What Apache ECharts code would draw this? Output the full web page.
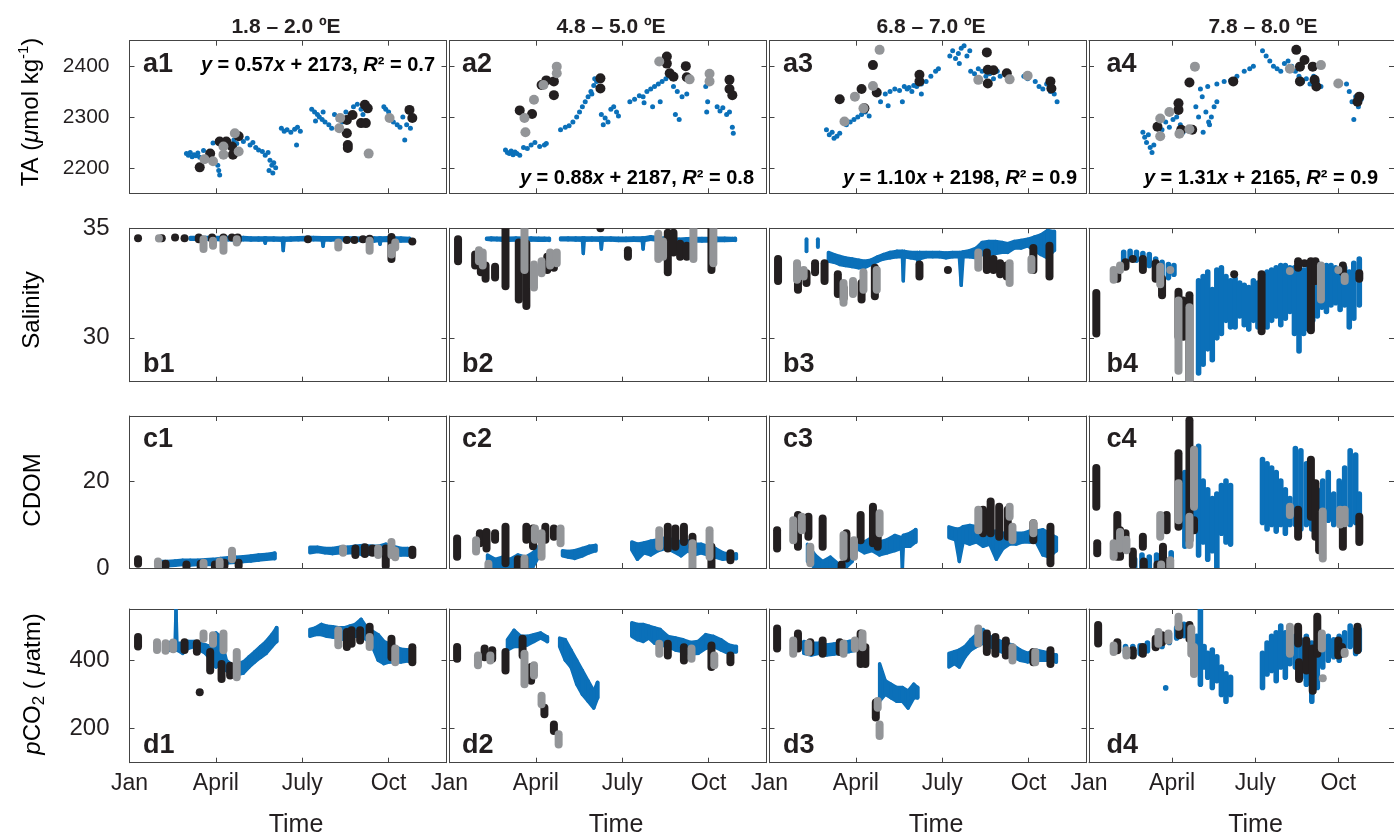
<!DOCTYPE html>
<html>
<head>
<meta charset="utf-8">
<script src="https://cdn.jsdelivr.net/npm/echarts@6.0.0/dist/echarts.min.js"></script>
<style>
  html, body { margin: 0; padding: 0; background: #fff; }
  #chart { width: 1394px; height: 837px; }
</style>
</head>
<body>
<div id="chart"></div>
<script>
// ---- axis ticks / labels ----
const monthTicks = [0, 91, 182, 273]
const monthLabels = ['Jan', 'April', 'July', 'Oct']
const lonTitles = ['1.8 – 2.0 ºE', '4.8 – 5.0 ºE', '6.8 – 7.0 ºE', '7.8 – 8.0 ºE']
const taTicks = [2200, 2300, 2400]
const salTicks = [30, 35]
const cdomTicks = [0, 20]
const pco2Ticks = [200, 400]
const fitSlopes = ['0.57', '0.88', '1.10', '1.31']
const fitIntercepts = ['2173', '2187', '2198', '2165']
const fitR2 = ['0.7', '0.8', '0.9', '0.9']

// ---- row a: TA  [day, TA] ----
const a1Blue = [[60,2228],[62,2225],[64,2230],[66,2222],[68,2226],[70,2224],[72,2229],[74,2221],[78,2234],[88,2249],[93,2205],[94,2195],[95,2186],[110,2255],[113,2248],[116,2260],[120,2252],[124,2258],[127,2245],[130,2250],[133,2240],[136,2235],[140,2232],[143,2225],[146,2230],[148,2215],[150,2205],[152,2210],[154,2200],[147,2195],[151,2190],[160,2278],[163,2272],[166,2275],[170,2270],[174,2276],[177,2280],[180,2272],[176,2245],[192,2315],[195,2310],[198,2305],[200,2300],[203,2295],[206,2290],[210,2285],[213,2278],[196,2292],[204,2310],[216,2305],[220,2295],[224,2290],[228,2310],[232,2300],[236,2320],[240,2325],[244,2315],[246,2305],[268,2320],[270,2315],[273,2310],[278,2290],[282,2285],[285,2280],[288,2300],[292,2285],[296,2278],[290,2255]]
const a1Black = [[74,2201],[85,2228],[95,2252],[102,2252],[108,2242],[109,2226],[115,2262],[229,2294],[229,2268],[230,2245],[230,2239],[235,2304],[244,2288],[249,2288],[248,2324],[251,2317],[295,2314],[298,2298]]
const a1Grey = [[79,2217],[88,2213],[99,2242],[99,2226],[111,2268],[115,2232],[222,2298],[221,2278],[252,2228],[274,2298]]

const a2Blue = [[59,2235],[61,2230],[63,2228],[65,2233],[67,2226],[69,2231],[71,2228],[74,2225],[78,2240],[82,2238],[86,2245],[90,2250],[95,2242],[100,2245],[102,2248],[117,2275],[122,2280],[126,2283],[130,2290],[134,2300],[137,2310],[140,2320],[143,2330],[146,2340],[149,2350],[152,2362],[155,2370],[150,2345],[153,2375],[160,2305],[164,2298],[167,2290],[170,2315],[173,2320],[176,2310],[178,2302],[162,2285],[190,2330],[195,2335],[200,2342],[204,2340],[208,2350],[212,2355],[216,2360],[220,2365],[224,2370],[228,2375],[232,2380],[214,2320],[222,2330],[205,2328],[236,2360],[240,2350],[245,2340],[250,2345],[238,2305],[242,2295],[270,2360],[272,2330],[271,2310],[282,2320],[285,2312],[288,2318],[292,2305],[295,2310],[298,2280],[299,2268]]
const a2Black = [[74,2313],[87,2306],[97,2363],[102,2372],[110,2370],[110,2343],[159,2376],[159,2356],[229,2419],[229,2405],[232,2386],[236,2379],[249,2400],[250,2378],[295,2373],[295,2355],[298,2343]]
const a2Grey = [[79,2298],[80,2270],[89,2334],[99,2363],[113,2399],[113,2386],[221,2409],[253,2374],[274,2385],[274,2370]]

const a3Blue = [[60,2275],[63,2265],[66,2270],[68,2258],[71,2262],[74,2268],[81,2285],[85,2290],[89,2295],[93,2300],[97,2305],[101,2310],[105,2302],[117,2330],[122,2345],[127,2350],[132,2355],[137,2352],[142,2360],[147,2358],[152,2362],[157,2365],[125,2322],[140,2330],[145,2355],[150,2350],[155,2360],[160,2365],[165,2370],[170,2380],[175,2390],[178,2395],[160,2345],[190,2420],[193,2430],[196,2415],[199,2425],[202,2435],[205,2440],[208,2420],[211,2430],[200,2405],[212,2390],[216,2385],[220,2395],[224,2390],[228,2380],[232,2385],[236,2375],[240,2390],[243,2380],[268,2380],[272,2375],[280,2370],[284,2360],[288,2355],[292,2365],[296,2350],[300,2345],[303,2330]]
const a3Black = [[74,2335],[97,2355],[109,2402],[100,2317],[113,2348],[158,2383],[158,2370],[229,2427],[230,2393],[230,2366],[236,2392],[250,2386],[296,2370],[297,2356]]
const a3Grey = [[79,2291],[90,2340],[99,2317],[109,2361],[116,2432],[220,2373],[253,2374],[272,2381]]

const a4Blue = [[59,2270],[61,2260],[63,2250],[65,2265],[67,2240],[69,2230],[71,2245],[76,2285],[80,2275],[84,2290],[88,2280],[92,2295],[96,2300],[100,2285],[103,2270],[117,2320],[120,2300],[124,2340],[128,2310],[131,2290],[134,2300],[137,2320],[140,2330],[122,2355],[130,2360],[140,2365],[148,2370],[155,2372],[162,2380],[170,2390],[176,2395],[180,2400],[125,2270],[132,2285],[190,2430],[194,2420],[198,2410],[202,2400],[206,2395],[210,2390],[214,2405],[218,2410],[222,2400],[226,2390],[230,2380],[234,2370],[238,2375],[242,2365],[246,2380],[250,2370],[254,2360],[282,2365],[285,2350],[288,2330],[292,2340],[295,2320],[298,2335],[290,2295]]
const a4Black = [[75,2281],[98,2327],[98,2314],[101,2275],[110,2368],[113,2275],[158,2370],[227,2432],[231,2399],[236,2412],[245,2399],[247,2373],[231,2370],[249,2360],[296,2340],[294,2330]]
const a4Grey = [[78,2297],[78,2262],[88,2310],[99,2267],[110,2276],[116,2399],[220,2395],[254,2402],[273,2366]]

// ---- row b: salinity  [day, low, high] ----
const b1Blue = [[64,34.5,34.58],[72,34.5,34.58],[80,34.5,34.58],[88,34.5,34.58],[96,34.48,34.58],[104,34.48,34.58],[112,34.46,34.56],[120,34.48,34.58],[128,34.46,34.56],[136,34.46,34.56],[142,34.46,34.56],[143,34.32,34.56],[144,34.46,34.56],[152,34.46,34.56],[161,34.45,34.55],[162,33.98,34.55],[163,34.45,34.55],[170,34.46,34.56],[178,34.47,34.57],[186,34.48,34.58],[194,34.48,34.58],[203,34.46,34.57],[204,34.18,34.56],[205,34.46,34.57],[212,34.46,34.57],[220,34.47,34.57],[228,34.46,34.56],[236,34.45,34.56],[244,34.44,34.55],[252,34.44,34.56],[258,34.42,34.56],[263,34.44,34.56],[264,34.27,34.56],[265,34.44,34.56],[272,34.44,34.57],[280,34.42,34.56],[286,34.42,34.56],[295,34.42,34.54]]
const b1Black = [[9,34.55,34.55],[34,34.55,34.55],[48,34.58,34.58],[58,34.55,34.55],[73,34.5,34.58],[87,34.5,34.58],[99,34.58,34.58],[108,34.58,34.58],[114,34.45,34.58],[188,34.5,34.5],[229,34.47,34.47],[237,34.47,34.47],[246,34.5,34.5],[253,34.52,34.52],[276,33.6,34.6],[298,34.4,34.4]]
const b1Grey = [[31,34.53,34.55],[78,34.05,34.5],[88,34.2,34.43],[99,33.97,34.5],[113,34.35,34.5],[220,34.12,34.35],[253,33.97,34.43],[276,33.81,34.12],[280,34.12,34.35]]

const b2Blue = [[39,34.5,34.55],[44,34.48,34.56],[50,34.47,34.55],[56,34.45,34.55],[62,34.45,34.55],[70,34.46,34.56],[78,34.45,34.55],[86,34.46,34.56],[94,34.45,34.55],[100,34.45,34.55],[105,34.46,34.54],[117,34.48,34.56],[125,34.47,34.56],[133,34.46,34.56],[140,34.45,34.56],[141,33.85,34.55],[142,34.45,34.56],[150,34.46,34.56],[159,34.45,34.56],[160,34.05,34.55],[161,34.45,34.56],[170,34.46,34.56],[178,34.44,34.55],[186,34.44,34.55],[194,34.45,34.56],[203,34.44,34.56],[204,34.05,34.56],[205,34.44,34.56],[212,34.5,34.62],[218,34.46,34.58],[226,34.44,34.55],[234,34.4,34.52],[242,34.38,34.5],[250,34.4,34.52],[258,34.42,34.54],[266,34.42,34.54],[274,34.42,34.54],[282,34.44,34.55],[290,34.44,34.55],[298,34.45,34.54],[301,34.45,34.54]]
const b2Black = [[9,33.5,34.5],[27,33.3,33.8],[33,33.0,33.6],[38,32.7,33.3],[48,32.75,33.25],[59,32.35,35.0],[73,31.75,34.35],[81,31.45,34.3],[103,33.1,33.7],[110,33.2,33.8],[159,35.0,35.0],[188,33.7,34.0],[230,33.0,34.8],[236,33.9,34.8],[243,33.7,34.3],[250,33.7,34.2],[276,33.1,35.0]]
const b2Grey = [[31,33.5,34.0],[35,33.3,33.9],[79,33.1,35.0],[89,32.3,33.35],[97,32.95,33.5],[106,33.3,33.9],[113,33.4,33.9],[220,33.6,34.75],[225,33.7,34.4],[257,33.6,35.0],[278,33.4,35.0]]

const b3Blue = [[39,33.95,34.5],[51,34.15,34.5],[62,33.5,33.9],[68,33.45,33.8],[74,33.35,33.72],[80,33.3,33.65],[87,33.25,33.6],[94,33.2,33.55],[100,33.2,33.5],[107,33.35,33.55],[114,33.5,33.7],[120,33.6,33.8],[127,33.65,33.9],[134,33.7,33.95],[140,33.7,33.95],[141,32.6,33.9],[142,33.7,33.95],[149,33.65,33.9],[156,33.6,33.9],[157,33.2,33.85],[158,33.6,33.9],[165,33.7,33.9],[172,33.7,33.9],[179,33.7,33.9],[186,33.65,33.88],[193,33.7,33.9],[200,33.7,33.9],[202,32.4,33.9],[204,33.7,33.92],[211,33.7,33.98],[218,33.65,34.1],[224,33.8,34.35],[231,33.8,34.4],[238,33.85,34.4],[245,33.9,34.35],[251,33.9,34.3],[258,34.1,34.4],[265,34.1,34.45],[272,34.2,34.5],[279,34.0,34.6],[286,33.8,34.7],[293,33.65,34.9],[300,34.0,34.85]]
const b3Black = [[9,32.6,33.6],[30,32.2,33.0],[39,32.5,32.95],[48,33.0,33.4],[58,32.6,33.4],[72,32.0,32.9],[78,31.8,32.3],[97,31.75,32.5],[111,31.9,33.2],[158,32.8,33.35],[188,33.1,33.1],[229,33.1,33.9],[236,33.1,33.6],[243,32.9,33.4],[250,32.8,33.3],[278,33.1,34.1],[295,32.8,34.2]]
const b3Grey = [[29,32.65,33.4],[36,32.8,33.1],[78,31.6,32.5],[88,32.0,32.6],[99,32.2,33.0],[113,32.2,33.1],[220,33.2,33.9],[253,32.5,33.4],[276,33.1,33.6]]

const b4Blue = [[38,33.5,33.9],[45,33.6,33.95],[52,33.55,33.9],[59,33.45,33.85],[66,33.3,33.8],[73,33.05,33.6],[80,32.8,33.45],[87,32.75,33.35],[93,32.9,33.3],[120,28.4,32.6],[125,28.8,32.8],[130,29.5,33.0],[135,29.0,32.2],[140,30.0,33.1],[145,30.2,33.2],[150,30.8,32.8],[155,30.5,32.6],[160,30.5,32.7],[165,31.0,32.5],[170,30.6,32.4],[175,30.4,32.3],[180,30.8,32.6],[185,30.5,32.5],[190,30.8,32.8],[195,30.5,33.0],[200,30.8,33.1],[205,31.0,33.2],[210,30.6,33.3],[215,30.9,33.3],[220,31.2,33.2],[225,30.2,33.2],[230,29.4,33.0],[235,30.2,33.1],[240,30.4,33.4],[245,30.8,33.4],[250,31.0,33.4],[255,31.4,33.2],[260,31.2,33.3],[265,31.5,33.3],[270,31.6,33.2],[275,31.3,33.1],[280,31.5,33.2],[285,30.5,33.0],[290,30.9,33.4],[296,31.5,33.6]]
const b4Black = [[8,30.2,32.05],[31,32.7,33.0],[40,33.25,33.45],[48,33.6,33.6],[59,33.1,33.6],[73,32.7,33.4],[80,31.95,32.7],[98,30.05,32.1],[103,30.05,31.7],[110,28.0,31.95],[159,32.9,32.9],[189,30.3,32.9],[229,33.2,33.5],[236,33.4,33.4],[243,30.35,33.5],[248,32.6,33.5],[278,33.0,33.3],[296,32.7,32.95]]
const b4Grey = [[27,32.65,33.1],[34,33.1,33.3],[78,32.45,33.25],[89,33.1,33.1],[98,28.5,31.7],[110,27.95,31.4],[220,33.05,33.05],[254,31.75,33.3],[273,33.1,33.1],[280,32.6,32.8]]

// ---- row c: CDOM  [day, low, high] ----
const c1Blue = [[32,0.5,1.5],[40,0.5,1.5],[48,0.6,1.6],[56,0.8,1.8],[64,0.7,1.8],[72,0.8,1.8],[80,0.8,1.9],[88,0.8,2.0],[96,1.0,2.2],[104,1.2,2.4],[112,1.3,2.5],[120,1.5,2.6],[128,1.6,2.8],[136,1.8,3.0],[144,2.0,3.1],[153,2.2,3.4],[190,3.5,4.8],[198,3.8,4.8],[206,3.5,4.5],[214,3.3,4.5],[222,3.5,4.8],[230,3.5,4.8],[238,3.5,5.0],[246,3.0,5.2],[254,3.2,5.0],[262,3.2,5.0],[270,3.0,5.5],[278,3.0,5.0],[286,3.0,4.5],[293,3.0,4.5],[298,3.2,4.2]]
const c1Black = [[9,1.0,2.0],[38,0.5,1.0],[60,0.3,0.8],[75,0.3,1.0],[90,0.2,0.8],[100,0.5,1.2],[115,0.5,1.2],[238,3.0,4.5],[248,3.2,4.8],[256,3.5,4.5],[270,0.5,4.5],[298,3.0,4.2]]
const c1Grey = [[30,0.5,1.5],[78,0.5,1.2],[95,0.5,1.5],[108,2.0,4.0],[225,3.5,4.5],[262,3.0,4.5],[276,3.0,6.0],[280,2.5,4.0]]

const c2Blue = [[40,0.5,3.0],[48,0.0,2.0],[56,0.0,2.5],[64,0.0,2.0],[72,0.0,3.0],[80,0.5,2.5],[88,0.3,3.5],[94,2.6,4.9],[119,2.8,4.0],[125,2.5,3.8],[132,2.2,4.0],[140,2.8,4.5],[147,3.5,5.0],[154,4.0,5.2],[192,4.2,6.0],[198,2.0,5.5],[205,3.5,5.8],[212,3.0,6.2],[220,4.0,6.5],[228,4.5,7.0],[236,3.8,6.5],[244,2.8,6.0],[251,4.0,6.2],[258,3.0,5.5],[265,3.5,5.5],[272,3.0,5.0],[280,2.5,4.5],[288,2.0,3.5],[295,2.2,3.2],[302,2.2,3.2]]
const c2Black = [[8,2.6,6.8],[32,5.7,8.0],[39,4.5,8.3],[48,6.5,8.0],[59,1.1,9.5],[72,0.2,2.0],[79,0.0,2.0],[81,6.5,9.5],[88,5.0,9.1],[101,6.5,9.5],[110,7.2,9.1],[230,4.5,9.5],[238,4.9,9.1],[247,6.0,9.5],[256,4.9,7.2],[276,0.0,4.9],[296,1.8,3.4]]
const c2Grey = [[28,3.8,6.4],[41,0.0,1.0],[79,0.0,2.2],[90,6.5,9.1],[97,2.6,8.0],[117,5.7,9.1],[221,4.9,8.7],[256,0.0,5.7],[274,2.6,8.7]]

const c3Blue = [[40,1.5,5.5],[48,0.0,3.0],[56,0.0,1.5],[64,0.0,2.5],[72,0.0,1.0],[80,0.0,0.8],[87,1.5,5.0],[92,4.5,6.5],[100,3.5,6.0],[108,4.0,7.0],[116,3.0,6.0],[124,3.5,6.5],[132,4.0,7.5],[139,4.5,7.0],[140,0.0,7.0],[141,5.0,7.5],[148,5.0,8.0],[154,6.0,8.8],[189,7.0,9.5],[196,6.5,9.0],[200,1.5,9.0],[204,6.0,9.5],[211,5.5,9.8],[218,6.0,9.5],[225,5.0,9.0],[232,5.5,8.5],[239,2.0,8.5],[246,4.5,8.0],[253,5.5,8.0],[260,5.5,8.0],[267,6.0,8.0],[274,6.0,8.5],[281,6.0,8.5],[288,3.0,8.8],[295,2.5,8.0],[302,4.0,7.0]]
const c3Black = [[8,4.5,8.7],[30,4.9,12.2],[41,7.2,11.8],[56,4.9,11.4],[76,0.0,0.8],[81,2.2,8.0],[96,6.4,12.2],[109,5.7,14.1],[114,4.9,7.2],[225,8.0,13.4],[233,8.0,15.3],[242,7.2,14.1],[251,7.2,13.4],[278,6.4,10.3],[296,1.1,9.5]]
const c3Grey = [[25,6.4,11.0],[34,8.7,11.8],[43,1.1,4.9],[78,2.6,7.6],[89,2.6,6.4],[116,8.0,12.6],[220,8.7,13.4],[253,11.8,14.1],[256,6.4,9.5],[278,8.0,10.3]]

const c4Blue = [[50,0.0,2.0],[58,0.0,3.0],[66,0.0,2.5],[74,0.0,3.0],[82,0.0,2.0],[90,0.5,3.5],[101,10.0,20.0],[105,5.0,22.0],[110,8.0,25.0],[115,10.0,22.0],[120,3.0,28.0],[125,6.0,20.0],[130,2.0,18.0],[135,4.0,16.0],[140,0.0,17.0],[145,8.0,19.0],[150,6.0,20.0],[155,5.5,19.0],[190,10.5,25.0],[195,9.0,24.0],[200,10.0,23.0],[205,8.5,22.0],[210,10.0,20.0],[215,8.0,18.0],[220,10.0,16.0],[226,10.0,27.5],[232,9.0,27.0],[238,10.0,24.0],[244,9.0,20.0],[250,10.0,18.0],[256,10.5,20.0],[262,11.0,22.0],[268,10.0,17.0],[274,10.5,20.0],[280,10.0,23.0],[286,10.0,27.0],[292,10.5,26.0],[296,11.0,17.0]]
const c4Black = [[8,14.1,23.0],[9,3.4,5.7],[31,2.6,12.2],[34,2.6,8.7],[40,4.9,8.0],[48,0.7,3.8],[59,4.9,7.2],[60,0.0,1.5],[75,0.0,0.8],[81,0.0,4.9],[85,8.7,12.2],[98,9.5,26.4],[110,6.4,34.0],[115,8.7,11.0],[229,7.2,13.4],[243,11.8,24.9],[248,7.2,19.5],[252,4.1,11.8],[278,4.9,11.0],[296,6.0,11.8]]
const c4Grey = [[27,2.6,5.7],[34,4.5,8.3],[41,4.1,6.5],[78,7.2,12.2],[79,0.0,0.8],[89,0.3,1.8],[98,11.0,19.5],[110,5.3,11.8],[115,14.1,27.2],[220,12.2,14.1],[256,2.2,13.0],[275,10.0,13.4],[280,10.3,13.4]]

// ---- row d: pCO2  [day, low, high] ----
const d1Blue = [[36,425,450],[43,430,452],[48,430,450],[49,430,548],[50,430,450],[56,420,450],[62,435,455],[68,440,455],[74,430,450],[80,420,445],[86,400,440],[91,380,480],[96,390,470],[102,370,400],[108,355,385],[114,358,390],[120,362,395],[126,380,410],[132,395,425],[138,408,440],[144,420,455],[150,440,475],[155,455,495],[190,470,490],[196,475,495],[202,475,505],[208,470,500],[214,468,498],[220,465,495],[226,460,495],[232,468,500],[238,470,505],[244,470,520],[250,460,495],[256,440,485],[262,400,475],[268,390,455],[274,395,448],[280,395,440],[286,395,432],[294,398,430]]
const d1Black = [[9,440,468],[58,430,453],[71,425,450],[74,306,306],[85,370,424],[97,345,389],[106,355,384],[229,439,483],[234,448,488],[243,458,488],[253,473,498],[276,409,463],[298,394,438]]
const d1Grey = [[29,430,453],[38,428,450],[46,432,452],[78,463,478],[88,448,473],[99,429,478],[113,350,424],[220,444,488],[253,439,468],[280,394,434]]

const d2Blue = [[61,430,460],[68,440,488],[75,440,470],[82,445,470],[89,455,475],[96,465,480],[103,455,468],[116,440,465],[122,400,460],[128,380,430],[134,330,400],[140,300,370],[146,280,340],[152,260,310],[156,290,335],[192,470,510],[198,460,505],[204,455,505],[210,465,500],[216,450,495],[222,445,490],[230,440,470],[238,430,465],[246,425,460],[254,418,452],[262,420,455],[270,435,475],[278,440,470],[286,430,460],[294,420,445],[302,425,440]]
const d2Black = [[8,404,439],[37,409,434],[45,404,429],[59,370,424],[77,414,463],[86,340,380],[100,242,261],[110,193,212],[230,414,448],[247,399,438],[276,380,443],[296,394,414]]
const d2Grey = [[30,385,414],[43,399,414],[79,330,419],[89,355,385],[97,271,296],[115,153,183],[221,419,448],[255,404,434],[279,385,414]]

const d3Blue = [[36,420,455],[44,415,450],[52,420,450],[60,415,445],[68,418,448],[76,420,450],[84,425,455],[92,430,460],[96,430,458],[116,280,390],[122,300,340],[128,290,330],[134,280,320],[140,280,320],[146,260,310],[152,290,330],[156,290,320],[189,380,420],[195,390,425],[200,380,430],[206,410,440],[212,430,460],[218,440,475],[225,450,490],[232,440,470],[240,430,460],[248,420,450],[256,410,445],[264,400,430],[272,395,420],[280,400,430],[288,400,425],[296,400,420],[302,395,415]]
const d3Black = [[8,434,493],[30,434,478],[43,424,453],[56,419,458],[74,424,453],[96,389,478],[101,389,438],[112,232,276],[229,424,478],[238,419,468],[249,414,458],[278,394,424],[296,389,429]]
const d3Grey = [[25,419,458],[41,424,449],[78,419,449],[90,434,458],[98,438,478],[114,261,281],[116,178,212],[220,449,493],[256,399,438],[280,394,424]]

const d4Blue = [[40,420,440],[48,415,440],[56,420,442],[64,428,450],[72,440,460],[80,440,470],[88,452,478],[96,465,495],[104,472,505],[112,430,490],[118,400,470],[122,330,550],[126,380,440],[130,350,420],[135,320,430],[140,340,410],[145,300,380],[150,280,360],[155,300,350],[190,320,420],[195,360,450],[200,370,470],[205,340,480],[210,380,500],[215,350,480],[220,390,480],[226,380,470],[232,350,460],[238,330,470],[244,280,450],[250,320,440],[256,380,460],[262,400,470],[268,410,460],[274,400,470],[280,420,480],[286,440,500],[292,420,490],[296,430,490],[84,319,319]]
const d4Black = [[10,449,503],[31,429,453],[48,414,429],[59,419,439],[73,438,463],[80,453,473],[99,473,503],[110,463,503],[229,449,498],[230,345,394],[238,370,458],[245,311,434],[250,419,527],[273,414,458],[277,419,439],[294,429,498]]
const d4Grey = [[27,424,443],[41,414,429],[76,448,483],[87,458,478],[98,498,527],[112,419,493],[115,360,439],[220,419,498],[255,434,478],[256,347,347],[280,419,424]]

// ---- layout / style ----
const FONT = '"Liberation Sans", Arial, Helvetica, sans-serif'
const TEXT = '#231f20'
const BLUE = '#0b70b9'
const BLACK = '#231f20'
const GREY = '#939598'
const colLefts = [129.5, 449.5, 769.5, 1089]
const rowTops = [40.7, 228.3, 416, 609]
const rowHeights = [152.6, 153.4, 152, 153.7]
const PANEL_W = 317
const yRanges = [[2150, 2450], [28, 35], [0, 35], [100, 550]]
const yTicks = [taTicks, salTicks, cdomTicks, pco2Ticks]
const GAP_DAYS = 9
// panels where the sensor trace is drawn as separate vertical streaks
const streakPanels = ['b4', 'c4', 'd4']

const panelData = [
  [[a1Blue, a1Black, a1Grey], [a2Blue, a2Black, a2Grey], [a3Blue, a3Black, a3Grey], [a4Blue, a4Black, a4Grey]],
  [[b1Blue, b1Black, b1Grey], [b2Blue, b2Black, b2Grey], [b3Blue, b3Black, b3Grey], [b4Blue, b4Black, b4Grey]],
  [[c1Blue, c1Black, c1Grey], [c2Blue, c2Black, c2Grey], [c3Blue, c3Black, c3Grey], [c4Blue, c4Black, c4Grey]],
  [[d1Blue, d1Black, d1Grey], [d2Blue, d2Black, d2Grey], [d3Blue, d3Black, d3Grey], [d4Blue, d4Black, d4Grey]]
]

const frameLine = { show: true, onZero: false, lineStyle: { color: '#444', width: 1 } }
const innerTick = (vals) => ({ show: true, inside: true, length: 5, lineStyle: { color: '#444', width: 1 }, customValues: vals })

const capsuleShape = (a, b, w) => ({
  x: a[0] - w / 2, y: Math.min(a[1], b[1]) - w / 2, width: w, height: Math.abs(a[1] - b[1]) + w, r: w / 2
})

// sensor trace: band between consecutive samples
const renderBand = (params, api) => {
  const i = params.dataIndexInside
  const x = api.value(0)
  const p1 = api.coord([x, api.value(1)])
  const p2 = api.coord([x, api.value(2)])
  if (i + 1 < params.dataInsideLength) {
    const nx = api.value(0, i + 1)
    if (nx - x > 0 && nx - x <= GAP_DAYS) {
      const q1 = api.coord([nx, api.value(1, i + 1)])
      const q2 = api.coord([nx, api.value(2, i + 1)])
      return {
        type: 'polygon',
        shape: { points: [p1, p2, q2, q1] },
        style: { fill: BLUE, stroke: BLUE, lineWidth: 3.4, lineJoin: 'round' }
      }
    }
  }
  return { type: 'rect', shape: capsuleShape(p1, p2, 4), style: { fill: BLUE } }
}

// bottle samples / streaks: rounded vertical strokes
const renderCapsule = (color, w) => (params, api) => {
  const x = api.value(0)
  const a = api.coord([x, api.value(1)])
  const b = api.coord([x, api.value(2)])
  return { type: 'rect', shape: capsuleShape(a, b, w), style: { fill: color } }
}

const grids = []
const xAxes = []
const yAxes = []
const series = []
const rowLetters = ['a', 'b', 'c', 'd']

for (let r = 0; r < 4; r++) {
  for (let c = 0; c < 4; c++) {
    const g = r * 4 + c
    grids.push({ left: colLefts[c], top: rowTops[r], width: PANEL_W, height: rowHeights[r] })
    const xBase = { type: 'value', gridIndex: g, min: 0, max: 334, splitLine: { show: false }, axisLine: frameLine }
    xAxes.push(Object.assign({}, xBase, {
      position: 'bottom',
      axisTick: innerTick(monthTicks.slice(1)),
      axisLabel: {
        show: r === 3, customValues: monthTicks, margin: 9,
        formatter: (v) => monthLabels[monthTicks.indexOf(v)] || '',
        fontSize: 23, color: TEXT, fontFamily: FONT
      }
    }))
    xAxes.push(Object.assign({}, xBase, { position: 'top', axisTick: innerTick(monthTicks.slice(1)), axisLabel: { show: false } }))
    const yBase = { type: 'value', gridIndex: g, min: yRanges[r][0], max: yRanges[r][1], splitLine: { show: false }, axisLine: frameLine }
    yAxes.push(Object.assign({}, yBase, {
      position: 'left',
      axisTick: innerTick(yTicks[r]),
      axisLabel: {
        show: c === 0, customValues: yTicks[r], margin: 20, formatter: (v) => String(v),
        fontSize: r === 0 ? 21 : 24, color: TEXT, fontFamily: FONT
      }
    }))
    yAxes.push(Object.assign({}, yBase, { position: 'right', axisTick: innerTick(yTicks[r]), axisLabel: { show: false } }))

    const [blue, black, grey] = panelData[r][c]
    const idx = { xAxisIndex: 2 * g, yAxisIndex: 2 * g, silent: true, clip: true }
    if (r === 0) {
      series.push(Object.assign({ type: 'scatter', data: blue, symbolSize: 5, itemStyle: { color: BLUE, opacity: 1 } }, idx))
      series.push(Object.assign({ type: 'scatter', data: black, symbolSize: 10, itemStyle: { color: BLACK, opacity: 1 } }, idx))
      series.push(Object.assign({ type: 'scatter', data: grey, symbolSize: 10, itemStyle: { color: GREY, opacity: 1 } }, idx))
    } else {
      const streaky = streakPanels.includes(rowLetters[r] + (c + 1))
      series.push(Object.assign({ type: 'custom', data: blue, renderItem: streaky ? renderCapsule(BLUE, 5.6) : renderBand }, idx))
      series.push(Object.assign({ type: 'custom', data: black, renderItem: renderCapsule(BLACK, 8) }, idx))
      series.push(Object.assign({ type: 'custom', data: grey, renderItem: renderCapsule(GREY, 8) }, idx))
    }
  }
}

// texts
const graphics = []
const titleX = [286, 611, 931, 1263]
lonTitles.forEach((t, c) => {
  graphics.push({ type: 'text', x: titleX[c], y: 27, style: { text: t, font: 'bold 21px ' + FONT, fill: TEXT, textAlign: 'center', textVerticalAlign: 'middle' } })
})
const labelDx = [13.5, 12.5, 13.5, 17.5]
for (let r = 0; r < 4; r++) {
  for (let c = 0; c < 4; c++) {
    const y = (r === 0 || r === 2) ? rowTops[r] + 24 : rowTops[r] + rowHeights[r] - 17
    graphics.push({ type: 'text', x: colLefts[c] + labelDx[c], y: y, z: 10, style: { text: rowLetters[r] + (c + 1), font: 'bold 27px ' + FONT, fill: TEXT, textVerticalAlign: 'middle' } })
  }
}
const eqRich = {
  b: { fontFamily: FONT, fontWeight: 'bold', fontSize: 20, color: TEXT },
  i: { fontFamily: FONT, fontWeight: 'bold', fontStyle: 'italic', fontSize: 20, color: TEXT }
}
const eqPos = [[435, 65], [754, 178], [1077, 178], [1378, 178]]
for (let c = 0; c < 4; c++) {
  graphics.push({
    type: 'text', x: eqPos[c][0], y: eqPos[c][1], z: 10,
    style: {
      text: '{i|y}{b| = ' + fitSlopes[c] + '}{i|x}{b| + ' + fitIntercepts[c] + ', }{i|R}{b|² = ' + fitR2[c] + '}',
      rich: eqRich, align: 'right', verticalAlign: 'middle'
    }
  })
}
const nameRich = {
  n: { fontFamily: FONT, fontSize: 24, color: TEXT, lineHeight: 30 },
  i: { fontFamily: FONT, fontSize: 24, fontStyle: 'italic', color: TEXT, lineHeight: 30 },
  sup: { fontFamily: FONT, fontSize: 15, color: TEXT, verticalAlign: 'top', lineHeight: 30, padding: [0, 0, 12, 0] },
  sub: { fontFamily: FONT, fontSize: 17, color: TEXT, verticalAlign: 'bottom', lineHeight: 30, padding: [10, 0, 0, 0] }
}
const yNames = [
  ['{n|TA (}{i|μ}{n|mol kg}{sup|-1}{n|)}', 31, 112],
  ['{n|Salinity}', 32, 310],
  ['{n|CDOM}', 33, 490],
  ['{i|p}{n|CO}{sub|2}{n| ( }{i|μ}{n|atm)}', 33, 684]
]
yNames.forEach(([t, x, y]) => {
  graphics.push({ type: 'text', x: x, y: y, rotation: Math.PI / 2, style: { text: t, rich: nameRich, align: 'center', verticalAlign: 'middle' } })
})
colLefts.forEach((l) => {
  graphics.push({ type: 'text', x: l + PANEL_W / 2 + 8, y: 825, style: { text: 'Time', font: '25px ' + FONT, fill: TEXT, textAlign: 'center', textVerticalAlign: 'middle' } })
})

const chart = echarts.init(document.getElementById('chart'), null, { renderer: 'canvas' })
chart.setOption({
  animation: false,
  backgroundColor: '#fff',
  grid: grids,
  xAxis: xAxes,
  yAxis: yAxes,
  series: series,
  graphic: { elements: graphics }
})
window.addEventListener('resize', () => chart.resize())
</script>
</body>
</html>
